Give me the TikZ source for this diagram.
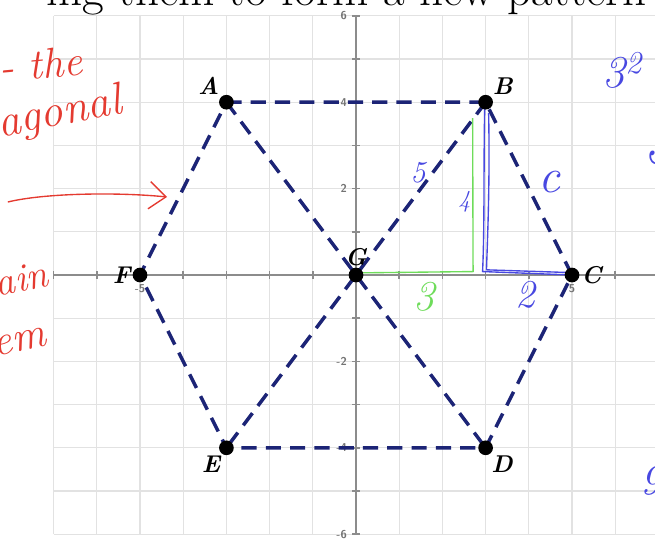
\documentclass[tikz,border=0pt]{standalone}
\usepackage{amsmath}
\usetikzlibrary{arrows.meta}

\definecolor{navy}{RGB}{28,36,118}
\definecolor{inkred}{RGB}{228,58,48}
\definecolor{inkblue}{RGB}{72,72,225}
\definecolor{inkgreen}{RGB}{110,220,90}
\definecolor{gridgray}{RGB}{226,226,226}
\definecolor{axisgray}{RGB}{140,140,140}

\tikzset{
  gridline/.style={gridgray, line width=0.8pt},
  axisline/.style={axisgray, line width=1.1pt},
  ticklbl/.style={font=\sffamily\bfseries\fontsize{7.5}{8}\selectfont, text=black!55, inner sep=1pt},
  hexline/.style={navy, line width=2.3pt, dash pattern=on 10pt off 6pt},
  dot/.style={circle, fill=black, minimum size=0.34cm, inner sep=0pt},
  ptlabel/.style={font=\fontsize{16}{18}\selectfont\bfseries\itshape, inner sep=1pt},
  redink/.style={inkred, line width=0.9pt},
  blueink/.style={inkblue, line width=0.9pt},
  greenink/.style={inkgreen, line width=0.9pt},
  handtext/.style={font=\itshape, inner sep=0pt, anchor=base west}
}

\begin{document}
\begin{tikzpicture}

  \useasboundingbox (-8.241,-6.088) rectangle (6.921,6.366);

  %% Grid and axes
  \foreach \x in {-7,...,7}
    \draw[gridline] (\x,-6) -- (\x,6);
  \foreach \y in {-6,...,6}
    \draw[gridline] (-7,\y) -- (7,\y);
  \draw[axisline] (-7,0) -- (7,0);
  \draw[axisline] (0,-6) -- (0,6);
  \foreach \x in {-7,...,7}
    \draw[axisline] (\x,-0.09) -- (\x,0.09);
  \foreach \y in {-6,...,6}
    \draw[axisline] (-0.09,\y) -- (0.09,\y);

  % tick labels
  \foreach \y in {-6,-4,-2,2,4,6}
    \node[ticklbl, anchor=east] (ylbl\y) at (-0.17,\y) {\y};
  \foreach \x in {-5,5}
    \node[ticklbl, anchor=north] (xlbl\x) at (\x,-0.17) {\x};

  % heading, cut at the top
  \node[anchor=base east, inner sep=0pt, font=\fontsize{31}{36}\selectfont] (head) at (6.736,6.25) {ing them to form a new pattern};

  %% Hexagon points
  \coordinate (A) at (-3,4);
  \coordinate (B) at (3,4);
  \coordinate (C) at (5,0);
  \coordinate (D) at (3,-4);
  \coordinate (E) at (-3,-4);
  \coordinate (F) at (-5,0);
  \coordinate (G) at (0,0);

  % dashed sides and diagonals
  \draw[hexline] (A) -- (B) -- (C) -- (D) -- (E) -- (F) -- (A);
  \draw[hexline] (A) -- (D);
  \draw[hexline] (B) -- (E);

  %% Hand-drawn legs of the triangle
  \coordinate (g1) at (0.05,0.05);
  \coordinate (g2) at (2.71,0.08);
  \coordinate (g3) at (2.70,3.63);
  \draw[greenink] (g1) -- (g2) -- (g3);

  \coordinate (b1) at (2.98,3.92);
  \coordinate (b2) at (2.93,0.08);
  \coordinate (b3) at (3.07,3.75);
  \coordinate (b4) at (3.02,0.12);
  \coordinate (b5) at (4.85,0.06);
  \draw[blueink] (b1) .. controls (2.95,2.5) and (2.98,1.2) .. (b2) -- (C);
  \draw[blueink] (b3) .. controls (3.1,2.2) and (3.05,1.0) .. (b4);
  \draw[blueink] (b4) -- (b5);

  %% Points
  \node[dot, label={[ptlabel]135:A}] (dA) at (A) {};
  \node[dot, label={[ptlabel]45:B}] (dB) at (B) {};
  \node[dot, label={[ptlabel]0:C}] (dC) at (C) {};
  \node[dot, label={[ptlabel]-60:D}] (dD) at (D) {};
  \node[dot, label={[ptlabel]-125:E}] (dE) at (E) {};
  \node[dot, label={[ptlabel]180:F}] (dF) at (F) {};
  \node[dot, label={[ptlabel]90:G}] (dG) at (G) {};

  %% Handwriting
  % red, left margin
  \node[handtext, inkred, rotate=5, font=\itshape\fontsize{28}{30}\selectfont] (wthe) at (-8.24,4.47) {- the};
  \node[handtext, inkred, rotate=11, font=\itshape\fontsize{30}{32}\selectfont] (wagonal) at (-8.24,3.19) {agonal};
  \node[handtext, inkred, rotate=12, font=\itshape\fontsize{26}{28}\selectfont] (wain) at (-8.30,-0.51) {ain};
  \node[handtext, inkred, rotate=12, font=\itshape\fontsize{28}{30}\selectfont] (wem) at (-8.35,-1.88) {em};
  \coordinate (arrS) at (-8.06,1.69);
  \coordinate (arrE) at (-4.375,1.806);
  \draw[redink, -{Straight Barb[length=11pt, width=18pt]}]
    (arrS) .. controls (-7.2,1.9) and (-5.5,1.92) .. (arrE);

  % blue, right margin
  \node[handtext, inkblue, font=\itshape\fontsize{30}{32}\selectfont] (wsq) at (5.70,4.35) {3\textsuperscript{2} -};
  \node[handtext, inkblue, font=\itshape\fontsize{40}{42}\selectfont] (wfive) at (6.64,2.59) {5};
  \node[handtext, inkblue, font=\itshape\fontsize{28}{30}\selectfont] (wnine) at (6.57,-5.09) {9};

  % side lengths
  \node[handtext, inkblue, font=\itshape\fontsize{20}{22}\selectfont] (lhyp) at (1.25,2.13) {5};
  \node[handtext, inkblue, font=\itshape\fontsize{16}{18}\selectfont] (lleg) at (2.36,1.57) {4};
  \node[handtext, inkblue, font=\itshape\fontsize{32}{34}\selectfont] (lc) at (4.21,1.92) {c};
  \node[handtext, inkblue, font=\itshape\fontsize{26}{28}\selectfont] (ltwo) at (3.68,-0.76) {2};
  \node[handtext, inkgreen, font=\itshape\fontsize{28}{30}\selectfont] (lthree) at (1.32,-0.81) {3};

\end{tikzpicture}
\end{document}
